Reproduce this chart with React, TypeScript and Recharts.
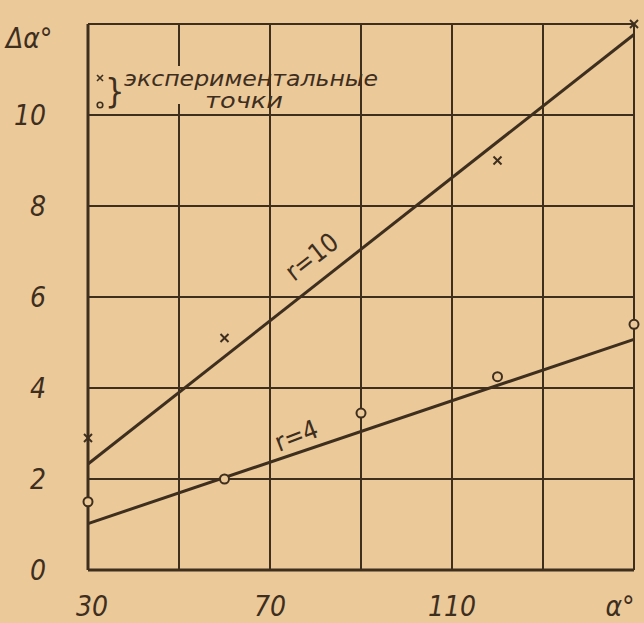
import {
  CartesianGrid,
  ComposedChart,
  Customized,
  Line,
  Scatter,
  XAxis,
  YAxis,
} from 'recharts';

// grid ticks
const xTicks = [30, 50, 70, 90, 110, 130, 150];
const yTicks = [0, 2, 4, 6, 8, 10, 12];

// labelled ticks only
const xLabels: Record<number, string> = { 30: '30', 70: '70', 110: '110', 150: 'α°' };
const yLabels: Record<number, string> = { 0: '0', 2: '2', 4: '4', 6: '6', 8: '8', 10: '10', 12: 'Δα°' };

// fitted lines
const lineR10 = [
  { x: 30, y: 2.33 },
  { x: 150, y: 11.77 },
];
const lineR4 = [
  { x: 30, y: 1.02 },
  { x: 150, y: 5.07 },
];

// experimental points
const crossPoints = [
  { x: 30, y: 2.9 },
  { x: 60, y: 5.1 },
  { x: 120, y: 9.0 },
  { x: 150, y: 12.0 },
];
const circlePoints = [
  { x: 30, y: 1.5 },
  { x: 60, y: 2.0 },
  { x: 90, y: 3.45 },
  { x: 120, y: 4.25 },
  { x: 150, y: 5.4 },
];

const PAPER = '#ebc999';
const INK = '#3e2e1e';
const FONT = '"DejaVu Sans Condensed", "DejaVu Sans", sans-serif';

function XTick(props: any) {
  const { x, y, payload } = props;
  const label = xLabels[payload.value];
  if (!label) return null;
  const dx = payload.value === 150 ? -12 : payload.value === 30 ? 4 : 0;
  return (
    <text
      x={x + dx}
      y={y + 38}
      textAnchor="middle"
      fill={INK}
      fontFamily={FONT}
      fontStyle="italic"
      fontSize={28}
    >
      {label}
    </text>
  );
}

function YTick(props: any) {
  const { x, y, payload } = props;
  const label = yLabels[payload.value];
  if (!label) return null;
  if (payload.value === 12) {
    return (
      <text x={6} y={y + 24} fill={INK} fontFamily={FONT} fontStyle="italic" fontSize={28}>
        {label}
      </text>
    );
  }
  return (
    <text
      x={x - 34}
      y={y + 10}
      textAnchor="end"
      fill={INK}
      fontFamily={FONT}
      fontStyle="italic"
      fontSize={28}
    >
      {label}
    </text>
  );
}

function CrossShape(props: any) {
  const { cx, cy } = props;
  const s = 4;
  return (
    <g stroke={INK} strokeWidth={2}>
      <line x1={cx - s} y1={cy - s} x2={cx + s} y2={cy + s} />
      <line x1={cx - s} y1={cy + s} x2={cx + s} y2={cy - s} />
    </g>
  );
}

function CircleShape(props: any) {
  const { cx, cy } = props;
  return <circle cx={cx} cy={cy} r={4.5} fill={PAPER} stroke={INK} strokeWidth={2} />;
}

function Annotations() {
  return (
    <g fill={INK} fontFamily={FONT}>
      <rect x={171} y={66} width={14} height={38} fill={PAPER} />
      <g stroke={INK} strokeWidth={1.6}>
        <line x1={97} y1={75} x2={103} y2={81} />
        <line x1={97} y1={81} x2={103} y2={75} />
      </g>
      <circle cx={100} cy={105} r={2.8} fill="none" stroke={INK} strokeWidth={1.6} />
      <text x={105} y={103} fontSize={34} fontWeight={300} fill={INK}>
        {'}'}
      </text>
      <text x={124} y={86} fontSize={21} fontStyle="italic" textLength={254} lengthAdjust="spacingAndGlyphs">
        экспериментальные
      </text>
      <text x={205} y={108} fontSize={21} fontStyle="italic" textLength={78} lengthAdjust="spacingAndGlyphs">
        точки
      </text>
      <text x={294} y={282} fontSize={26} transform="rotate(-38 294 282)">
        r=10
      </text>
      <text x={279} y={452} fontSize={26} transform="rotate(-21 279 452)">
        r=4
      </text>
    </g>
  );
}

export default function App() {
  return (
    <div style={{ position: 'absolute', left: 0, top: 0, width: 644, height: 623, background: PAPER }}>
      <ComposedChart width={644} height={623} margin={{ top: 24, right: 10, bottom: 0, left: 0 }}>
        <CartesianGrid stroke={INK} strokeWidth={2} />
        <XAxis
          type="number"
          dataKey="x"
          domain={[30, 150]}
          ticks={xTicks}
          tick={<XTick />}
          tickLine={false}
          axisLine={{ stroke: INK, strokeWidth: 3 }}
          height={53}
        />
        <YAxis
          type="number"
          dataKey="y"
          domain={[0, 12]}
          ticks={yTicks}
          tick={<YTick />}
          tickLine={false}
          axisLine={{ stroke: INK, strokeWidth: 3 }}
          width={88}
        />
        <Line
          data={lineR10}
          dataKey="y"
          stroke={INK}
          strokeWidth={3}
          dot={false}
          isAnimationActive={false}
        />
        <Line
          data={lineR4}
          dataKey="y"
          stroke={INK}
          strokeWidth={3}
          dot={false}
          isAnimationActive={false}
        />
        <Scatter data={crossPoints} dataKey="y" shape={<CrossShape />} isAnimationActive={false} />
        <Scatter data={circlePoints} dataKey="y" shape={<CircleShape />} isAnimationActive={false} />
        <Customized component={Annotations} />
      </ComposedChart>
    </div>
  );
}
